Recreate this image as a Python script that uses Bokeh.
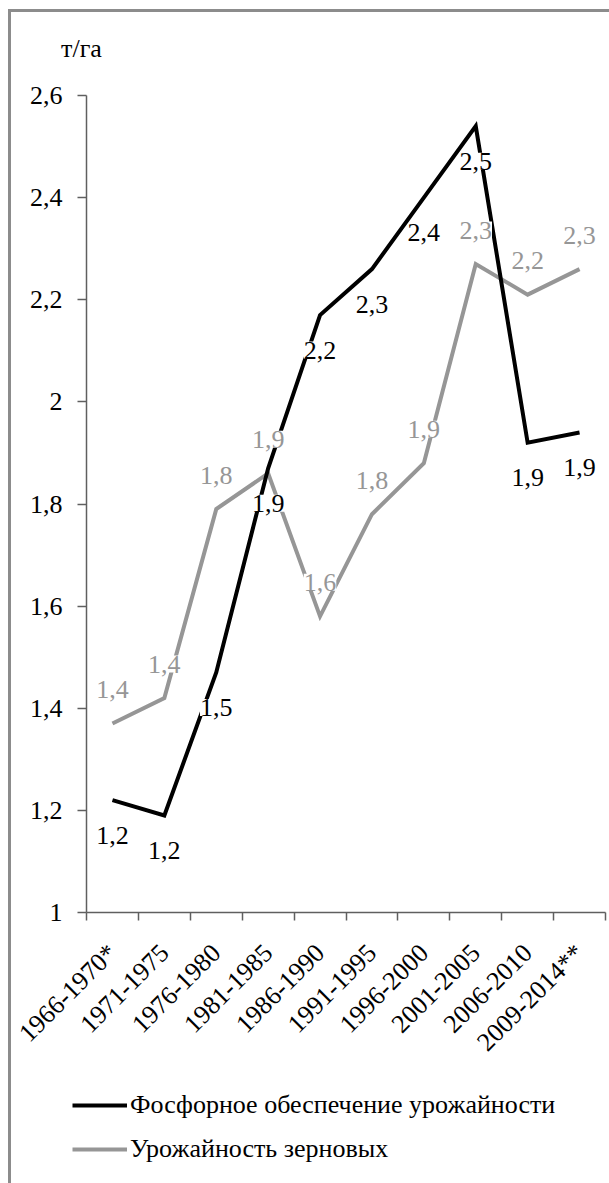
import math
from bokeh.plotting import figure
from bokeh.layouts import column
from bokeh.models import (ColumnDataSource, LabelSet, Label, Legend, LegendItem,
                          LinearAxis, Range1d, FixedTicker, FactorRange)
from bokeh.core.properties import value
from bokeh.embed import file_html
from bokeh.resources import INLINE

# ---- data ----
categories = ["1966-1970*", "1971-1975", "1976-1980", "1981-1985", "1986-1990",
              "1991-1995", "1996-2000", "2001-2005", "2006-2010", "2009-2014**"]
phosphorus = [1.22, 1.19, 1.47, 1.87, 2.17, 2.26, 2.40, 2.54, 1.92, 1.94]
grain = [1.37, 1.42, 1.79, 1.86, 1.58, 1.78, 1.88, 2.27, 2.21, 2.26]
y_ticks = [1, 1.2, 1.4, 1.6, 1.8, 2, 2.2, 2.4, 2.6]
y_tick_labels = ["1", "1,2", "1,4", "1,6", "1,8", "2", "2,2", "2,4", "2,6"]
unit_label = "т/га"
series_names = ["Фосфорное обеспечение урожайности", "Урожайность зерновых"]

FONT = "Liberation Serif"
FS = "26px"
AXIS_COLOR = "#5f5f5f"
GRAY = "#969696"
PHOS_COLOR = "black"


def fmt(v):
    return ("%.1f" % v).replace(".", ",")


src = ColumnDataSource(dict(
    x=categories,
    phos=phosphorus,
    grain=grain,
    phos_lbl=[fmt(v) for v in phosphorus],
    grain_lbl=[fmt(v) for v in grain],
))


def strip(height):
    f = figure(width=598, height=height, x_range=FactorRange(factors=categories),
               y_range=Range1d(0, 1), x_axis_location=None, y_axis_location=None,
               output_backend="svg", toolbar_location=None,
               min_border_left=0, min_border_right=0, min_border_top=0, min_border_bottom=0)
    f.frame_align = False
    f.outline_line_color = None
    f.xgrid.visible = False
    f.ygrid.visible = False
    return f


# ---- header strip with the unit ----
hd = strip(60)
hd.add_layout(Label(x=70, y=24, x_units="screen", y_units="screen", text=unit_label,
                    text_align="center", text_baseline="alphabetic",
                    text_font=FONT, text_font_size=FS, text_color="black"))

# ---- main chart ----
p = figure(width=598, height=1010,
           x_range=FactorRange(factors=categories, range_padding=0),
           y_range=Range1d(1, 2.6),
           x_axis_location=None,
           output_backend="svg", toolbar_location=None,
           min_border_left=75, min_border_right=4,
           min_border_top=23, min_border_bottom=170)
p.frame_align = False
p.outline_line_color = None
p.xgrid.visible = False
p.ygrid.visible = False
p.background_fill_color = "white"
p.border_fill_color = "white"

ya = p.yaxis[0]
ya.ticker = FixedTicker(ticks=y_ticks)
ya.major_label_overrides = dict(zip(y_ticks, y_tick_labels))
ya.major_tick_out = 9
ya.major_tick_in = 0
ya.minor_tick_out = 0
ya.minor_tick_in = 0
ya.major_label_standoff = 15
ya.major_label_text_font = FONT
ya.major_label_text_font_size = FS
ya.major_label_text_color = "black"
ya.axis_line_color = AXIS_COLOR
ya.axis_line_width = 1.5
ya.major_tick_line_color = AXIS_COLOR
ya.major_tick_line_width = 1.5

# x axis: labels at category centres (factor i sits at i + 0.5 on the factor
# range's own synthetic scale), ticks at the category boundaries
n = len(categories)
xa = LinearAxis(ticker=FixedTicker(ticks=[i + 0.5 for i in range(n)],
                                   minor_ticks=list(range(n + 1))),
                major_label_overrides={i + 0.5: c for i, c in enumerate(categories)})
xa.major_tick_out = 0
xa.major_tick_in = 0
xa.minor_tick_out = 8
xa.minor_tick_in = 0
xa.minor_tick_line_color = AXIS_COLOR
xa.minor_tick_line_width = 1.5
xa.axis_line_color = AXIS_COLOR
xa.axis_line_width = 1.5
xa.major_label_orientation = math.pi / 4
xa.major_label_standoff = 28
xa.major_label_text_font = FONT
xa.major_label_text_font_size = FS
xa.major_label_text_color = "black"
p.add_layout(xa, "below")

p.line("x", "grain", source=src, line_color=GRAY, line_width=4, line_join="miter")
p.line("x", "phos", source=src, line_color=PHOS_COLOR, line_width=4, line_join="miter")

p.add_layout(LabelSet(x="x", y="grain", text="grain_lbl", source=src, y_offset=34,
                      text_align="center", text_baseline="middle",
                      text_font=value(FONT), text_font_size=FS, text_color=GRAY,
                      background_fill_color="white"))
p.add_layout(LabelSet(x="x", y="phos", text="phos_lbl", source=src, y_offset=-35,
                      text_align="center", text_baseline="middle",
                      text_font=value(FONT), text_font_size=FS, text_color="black",
                      background_fill_color="white"))

# ---- legend strip (same series, outside its 0..1 view, only the key shows) ----
lg = strip(101)
key_phos = lg.line("x", "phos", source=src, line_color=PHOS_COLOR, line_width=4)
key_grain = lg.line("x", "grain", source=src, line_color=GRAY, line_width=4)
legend = Legend(items=[LegendItem(label=series_names[0], renderers=[key_phos]),
                       LegendItem(label=series_names[1], renderers=[key_grain])],
                location=(61, 19), orientation="vertical",
                padding=0, margin=0, spacing=14,
                glyph_width=55, glyph_height=30, label_height=30, label_standoff=3,
                label_text_font=FONT, label_text_font_size=FS, label_text_color="black",
                border_line_color=None, background_fill_alpha=0)
lg.add_layout(legend)

layout = column(hd, p, lg, spacing=0,
                styles={"margin-left": "8px", "margin-top": "9px",
                        "border-top": "3px solid #8c8c8c",
                        "border-left": "3px solid #8c8c8c"})

open("out.html", "w").write(file_html(layout, INLINE))
